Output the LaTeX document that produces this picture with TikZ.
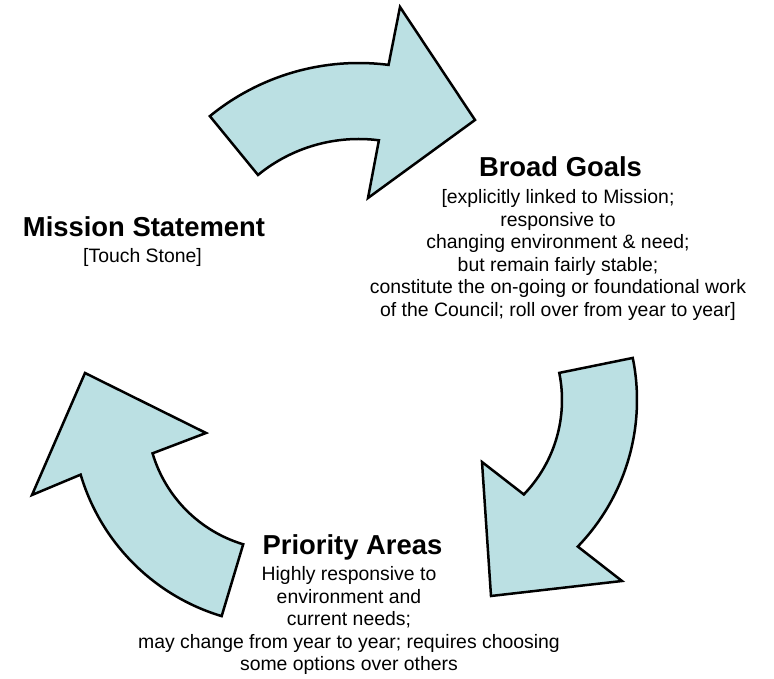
\documentclass[tikz,border=0pt]{standalone}
\usepackage{fontspec}
\setmainfont{Liberation Sans}
\usetikzlibrary{calc,positioning}

\definecolor{arrowfill}{RGB}{187,224,227}

\tikzset{
  cyclearrow/.style={draw=black, line width=2.5pt, line join=miter, fill=arrowfill},
  title/.style={inner sep=0pt, anchor=base, font=\fontsize{27.4}{32}\selectfont\bfseries},
  body/.style={inner sep=0pt, anchor=base, align=center, font=\fontsize{19.4}{22.6}\selectfont}
}

\begin{document}
\begin{tikzpicture}[x=1pt, y=1pt]

\useasboundingbox (0, 0) rectangle (774, 679);

% Arc centres of the three arrows
\coordinate (c1) at (358.7, 381);
\coordinate (c2) at (426, 279);
\coordinate (c3) at (282, 264);

% Top arrow (Mission -> Goals)
\draw[cyclearrow] ($(c1)+(129.3:235)$) arc[start angle=129.3, end angle=82.7, radius=235]
  -- (400, 672) -- (475, 559) -- (368, 481)
  -- ($(c1)+(82.7:159)$) arc[start angle=82.7, end angle=129.3, radius=159] -- cycle;

% Right arrow (Goals -> Priorities)
\draw[cyclearrow] ($(c2)+(11.5:211)$) arc[start angle=11.5, end angle=-44, radius=211]
  -- (622, 98) -- (491, 83) -- (482, 217)
  -- ($(c2)+(-44:136)$) arc[start angle=-44, end angle=11.5, radius=136] -- cycle;

% Left arrow (Priorities -> Mission)
\draw[cyclearrow] ($(c3)+(-106.7:210)$) arc[start angle=-106.7, end angle=-163.5, radius=210]
  -- (32, 184) -- (85, 306) -- (206, 246)
  -- ($(c3)+(-163.5:135)$) arc[start angle=-163.5, end angle=-106.7, radius=135] -- cycle;

% Mission Statement
\node[title] (mission) at (144, 442) {Mission Statement};
\node[body] (missiontxt) at (142.5, 416) {[Touch Stone]};

% Broad Goals (body anchored on its last line)
\node[title] (goals) at (560.5, 502) {Broad Goals};
\node[body] (goalstxt) at (558, 362.5) {[explicitly linked to Mission;\\
  responsive to\\
  changing environment \& need;\\
  but remain fairly stable;\\
  constitute the on-going or foundational work\\
  of the Council; roll over from year to year]};

% Priority Areas (body anchored on its last line)
\node[title] (priority) at (352.5, 124) {Priority Areas};
\node[body] (prioritytxt) at (349, 8) {Highly responsive to\\
  environment and\\
  current needs;\\
  may change from year to year; requires choosing\\
  some options over others};

\end{tikzpicture}
\end{document}
